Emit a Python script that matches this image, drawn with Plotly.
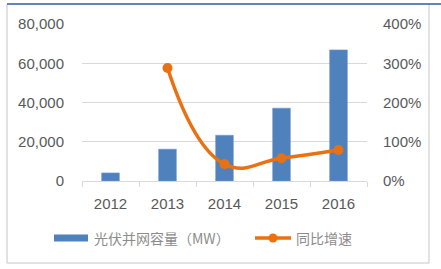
import plotly.graph_objects as go

years = ["2012", "2013", "2014", "2015", "2016"]
capacity_mw = [4100, 16200, 23300, 37100, 66800]
growth_years = ["2013", "2014", "2015", "2016"]
growth_rate = [2.88, 0.43, 0.58, 0.79]
series_names = ["光伏并网容量（MW）", "同比增速"]

W, H = 441, 269
L, R, T, B = 82, 367, 24, 181  # plot area in pixels

def px(x):
    return (x - L) / (R - L)

def py(y):
    return (B - y) / (B - T)

BAR_COLOR = "#4F81BD"
LINE_COLOR = "#E97112"
TICK_COLOR = "#595959"
FONT = "Liberation Sans, Arial, sans-serif"
CJK = "Noto Sans CJK SC, sans-serif"

fig = go.Figure()
fig.add_trace(go.Bar(
    x=years, y=capacity_mw, name=series_names[0],
    marker=dict(color=BAR_COLOR, line=dict(color="#6E97CC", width=0.6)),
    width=0.31, showlegend=False,
))
fig.add_trace(go.Scatter(
    x=growth_years, y=growth_rate, name=series_names[1], yaxis="y2",
    mode="lines+markers",
    line=dict(color=LINE_COLOR, width=3.5, shape="spline", smoothing=1.3),
    marker=dict(color=LINE_COLOR, size=10),
    showlegend=False,
))

shapes = []
# outer frame
shapes.append(dict(type="line", xref="paper", yref="paper",
                   x0=px(7), x1=px(7), y0=py(4), y1=py(263),
                   line=dict(color="#D9D9D9", width=1.5)))
shapes.append(dict(type="line", xref="paper", yref="paper",
                   x0=px(429), x1=px(429), y0=py(4), y1=py(263),
                   line=dict(color="#D9D9D9", width=1.5)))
shapes.append(dict(type="line", xref="paper", yref="paper",
                   x0=px(7), x1=px(429), y0=py(263), y1=py(263),
                   line=dict(color="#D9D9D9", width=1.5)))
shapes.append(dict(type="line", xref="paper", yref="paper",
                   x0=px(7), x1=px(441), y0=py(4), y1=py(4),
                   line=dict(color="#2F5D9B", width=1.5)))
# legend: bar swatch
shapes.append(dict(type="rect", xref="paper", yref="paper",
                   x0=px(54), x1=px(88), y0=py(234.5), y1=py(241.5),
                   fillcolor=BAR_COLOR, line=dict(width=0)))
# legend: line swatch
shapes.append(dict(type="line", xref="paper", yref="paper",
                   x0=px(255), x1=px(291), y0=py(238), y1=py(238),
                   line=dict(color=LINE_COLOR, width=3.5)))
shapes.append(dict(type="circle", xref="paper", yref="paper",
                   x0=px(268.5), x1=px(277.5), y0=py(233.5), y1=py(242.5),
                   fillcolor=LINE_COLOR, line=dict(width=0)))

annotations = [
    dict(xref="paper", yref="paper", x=px(92), y=py(238), text=series_names[0],
         showarrow=False, xanchor="left", yanchor="middle",
         font=dict(family=CJK, size=14, color="#8C8C8C")),
    dict(xref="paper", yref="paper", x=px(294), y=py(238), text=series_names[1],
         showarrow=False, xanchor="left", yanchor="middle",
         font=dict(family=CJK, size=14, color="#8C8C8C")),
]

fig.update_layout(
    width=W, height=H,
    margin=dict(l=L, r=W - R, t=T, b=H - B),
    paper_bgcolor="white", plot_bgcolor="white",
    font=dict(family=FONT, size=14, color=TICK_COLOR),
    bargap=0.69,
    xaxis=dict(
        type="category", showgrid=False,
        showline=True, linecolor="#D9D9D9", linewidth=1,
        ticks="outside", tickson="boundaries", ticklen=5, tickcolor="#D9D9D9",
        tickfont=dict(family=FONT, size=15, color=TICK_COLOR),
        ticklabelstandoff=9,
    ),
    yaxis=dict(
        range=[0, 80000], dtick=20000, tickformat=",",
        showgrid=True, gridcolor="#D9D9D9", gridwidth=1,
        zeroline=False, showline=False, ticks="",
        tickfont=dict(family=FONT, size=15, color=TICK_COLOR),
        ticklabelstandoff=17,
    ),
    yaxis2=dict(
        range=[0, 4], dtick=1, tickformat=".0%",
        overlaying="y", side="right",
        showgrid=False, zeroline=False, showline=False, ticks="",
        tickfont=dict(family=FONT, size=15, color=TICK_COLOR),
        ticklabelstandoff=15,
    ),
    shapes=shapes,
    annotations=annotations,
    showlegend=False,
)

fig.write_html("out.html")
